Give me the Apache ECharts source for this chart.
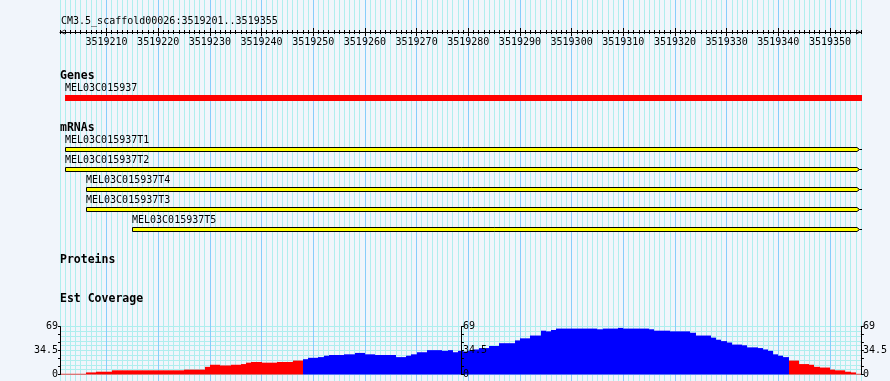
<!DOCTYPE html>
<html><head><meta charset="utf-8">
<script src="https://cdn.jsdelivr.net/npm/echarts@6/dist/echarts.min.js"></script>
<style>html,body{margin:0;padding:0;background:#f1f5fb}#c{width:890px;height:381px}</style>
</head><body><div id="c"></div>
<script>
// ---------- data ----------
const regionName = 'CM3.5_scaffold00026:3519201..3519355';
const viewStart = 3519201;
const viewEnd = 3519356;
const rulerLabels = [3519210, 3519220, 3519230, 3519240, 3519250, 3519260, 3519270, 3519280,
  3519290, 3519300, 3519310, 3519320, 3519330, 3519340, 3519350];
const trackNames = ['Genes', 'mRNAs', 'Proteins', 'Est Coverage'];
const geneNames = ['MEL03C015937'];
const geneStarts = [3519202];
const geneEnds = [3519356];
const mrnaNames = ['MEL03C015937T1', 'MEL03C015937T2', 'MEL03C015937T4', 'MEL03C015937T3', 'MEL03C015937T5'];
const mrnaStarts = [3519202, 3519202, 3519206, 3519206, 3519215];
const mrnaEnds = [3519356, 3519356, 3519356, 3519356, 3519356];
const coverageMax = 69;
const coverageAxisLabels = [0, 34.5, 69];
const coverageHighCut = 21;
// EST coverage, one value per base from viewStart
const coverage = [
  1,1,1,1,1,3,3,4,4,4,
  6,6,6,6,6,6,6,6,6,6,
  6,6,6,6,7,7,7,7,11,14,
  14,13,13,14,14,15,17,18,18,17,
  17,17,18,18,18,20,20,22,24,24,
  25,27,28,28,28,29,29,31,31,29,
  29,28,28,28,28,25,25,27,29,32,
  32,35,35,35,34,35,32,34,33,34,
  36,38,38,41,41,45,45,45,49,52,
  52,56,56,63,62,64,66,66,66,66,
  66,66,66,66,65,66,66,66,67,66,
  66,66,66,66,65,63,63,63,62,62,
  62,62,60,56,56,56,53,50,48,46,
  43,43,42,39,39,38,36,34,29,27,
  25,20,20,15,15,14,11,10,10,7,
  6,6,4,3,1
];

// ---------- layout ----------
const L = 60, W = 801;
const pxPerBp = W / (viewEnd - viewStart);
const majL = L + (rulerLabels[0] - viewStart) * pxPerBp;
const majW = (rulerLabels[rulerLabels.length - 1] - rulerLabels[0]) * pxPerBp;
const covTop = 326.5, covH = 48;
const SMALL = '10px "DejaVu Sans Mono"';
const BOLD = 'bold 11.5px "DejaVu Sans Mono"';
const MINOR = '#afeeee', MAJOR = '#87cefa';
const trackY = [76, 128, 260, 299];

const hidden = {show: false};
const noLine = {show: false, onZero: false};
function hx(grid, min, max, extra) {
  return Object.assign({type: 'value', gridIndex: grid, min: min, max: max,
    axisLine: noLine, axisTick: hidden, axisLabel: hidden, splitLine: hidden}, extra || {});
}
function hy(grid, extra) {
  return Object.assign({type: 'value', gridIndex: grid, min: 0, max: 1,
    axisLine: noLine, axisTick: hidden, axisLabel: hidden, splitLine: hidden}, extra || {});
}

const featureData = [];
geneNames.forEach((n, i) => featureData.push([geneStarts[i], geneEnds[i], 0, i]));
mrnaNames.forEach((n, i) => featureData.push([mrnaStarts[i], mrnaEnds[i], 1, i]));

const covData = coverage.map((v, i) => [viewStart + i, v]);

const chevron = 'path://M0,10 L5,0 L10,10 L8.6,10 L5,2.8 L1.4,10 Z';
const covLabel = {show: true, margin: 2, color: '#000', fontFamily: 'DejaVu Sans Mono', fontSize: 10,
  formatter: v => coverageAxisLabels.includes(v) ? String(v) : ''};

const option = {
  backgroundColor: '#f1f5fb',
  animation: false,
  grid: [
    {left: L, width: W, top: 0, height: 381},            // 0 minor grid + features
    {left: majL, width: majW, top: 0, height: 381},      // 1 major grid
    {left: L, width: W, top: 0, height: 32},             // 2 ruler minor down
    {left: L, width: W, top: 32, height: 10},            // 3 ruler minor up
    {left: majL, width: majW, top: 0, height: 32},       // 4 ruler major down + labels
    {left: majL, width: majW, top: 32, height: 10},      // 5 ruler major up
    {left: L, width: W, top: covTop, height: covH},      // 6 coverage
    {left: L, width: 401, top: covTop, height: covH}     // 7 middle coverage axis
  ],
  xAxis: [
    hx(0, viewStart, viewEnd, {interval: 1, splitLine: {show: true, lineStyle: {color: MINOR, width: 1}}}),
    hx(1, rulerLabels[0], rulerLabels[rulerLabels.length - 1], {interval: 10, splitLine: {show: true, lineStyle: {color: MAJOR, width: 1}}}),
    hx(2, viewStart, viewEnd, {interval: 1, position: 'bottom', z: 5,
      axisLine: {show: true, onZero: false, lineStyle: {color: '#000', width: 1}, symbol: [chevron, chevron], symbolSize: [7, 5], symbolOffset: [2.5, -2.5]},
      axisTick: {show: true, length: 2, lineStyle: {color: '#000'}}}),
    hx(3, viewStart, viewEnd, {interval: 1, position: 'top', z: 5,
      axisTick: {show: true, length: 2, lineStyle: {color: '#000'}}}),
    hx(4, rulerLabels[0], rulerLabels[rulerLabels.length - 1], {interval: 10, position: 'bottom', z: 5,
      axisTick: {show: true, length: 4, lineStyle: {color: '#000'}},
      axisLabel: {show: true, margin: 5, color: '#000', fontFamily: 'DejaVu Sans Mono', fontSize: 10,
        formatter: v => rulerLabels.includes(v) ? String(v) : ''}}),
    hx(5, rulerLabels[0], rulerLabels[rulerLabels.length - 1], {interval: 10, position: 'top', z: 5,
      axisTick: {show: true, length: 4, lineStyle: {color: '#000'}}}),
    hx(6, viewStart, viewEnd),
    hx(7, 0, 1)
  ],
  yAxis: [
    hy(0, {min: 0, max: 381, inverse: true}),
    hy(1), hy(2), hy(3), hy(4), hy(5),
    {type: 'value', gridIndex: 6, min: 0, max: coverageMax, interval: coverageMax / 6, position: 'left', z: 5,
      axisLine: {show: true, onZero: false, lineStyle: {color: '#000'}},
      axisTick: {show: true, length: 2, lineStyle: {color: '#000'}},
      axisLabel: covLabel, splitLine: hidden},
    {type: 'value', gridIndex: 6, min: 0, max: coverageMax, interval: coverageMax / 6, position: 'right', z: 5,
      axisLine: {show: true, onZero: false, lineStyle: {color: '#000'}},
      axisTick: {show: true, length: 3, lineStyle: {color: '#000'}},
      axisLabel: covLabel, splitLine: hidden},
    {type: 'value', gridIndex: 7, min: 0, max: coverageMax, interval: coverageMax / 6, position: 'right', z: 5,
      axisLine: {show: true, onZero: false, lineStyle: {color: '#000'}},
      axisTick: {show: true, length: 3, lineStyle: {color: '#000'}},
      axisLabel: covLabel, splitLine: hidden},
    {type: 'value', gridIndex: 6, min: 0, max: coverageMax, interval: coverageMax / 10, position: 'left',
      axisLine: noLine, axisTick: hidden, axisLabel: hidden,
      splitLine: {show: true, lineStyle: {color: MINOR, width: 1}}}
  ],
  graphic: [
    {type: 'text', x: 61, y: 21.5, z: 10, style: {text: regionName, font: SMALL, fill: '#000', textVerticalAlign: 'middle'}}
  ].concat(trackNames.map((t, i) => ({type: 'text', x: 60, y: trackY[i], z: 10,
    style: {text: t, font: BOLD, fill: '#000', textVerticalAlign: 'middle'}}))),
  series: [
    {
      type: 'custom', xAxisIndex: 0, yAxisIndex: 0, z: 3, clip: false,
      data: featureData,
      renderItem: function (params, api) {
        const s = api.value(0), e = api.value(1), kind = api.value(2), k = api.value(3);
        const xs = Math.round(api.coord([s, 0])[0]);
        const xe = Math.round(api.coord([e, 0])[0]);
        if (kind === 0) {
          const top = 95;
          return {type: 'group', children: [
            {type: 'rect', shape: {x: xs, y: top, width: xe + 1 - xs, height: 6}, style: {fill: '#ff0000'}},
            {type: 'text', style: {text: geneNames[k], x: xs, y: top - 6.5, font: SMALL, fill: '#000', textVerticalAlign: 'middle'}}
          ]};
        }
        const top = 147.5 + 20 * k, h = 4, mid = top + h / 2;
        return {type: 'group', children: [
          {type: 'polygon', shape: {points: [[xs + 0.5, top], [xe - 4, top], [xe - 1.5, mid], [xe - 4, top + h], [xs + 0.5, top + h]]},
            style: {fill: '#ffff00', stroke: '#000', lineWidth: 1}},
          {type: 'line', shape: {x1: xe - 1.5, y1: mid, x2: xe + 1, y2: mid}, style: {stroke: '#000', lineWidth: 1}},
          {type: 'text', style: {text: mrnaNames[k], x: xs, y: top - 7, font: SMALL, fill: '#000', textVerticalAlign: 'middle'}}
        ]};
      }
    },
    {
      type: 'custom', xAxisIndex: 6, yAxisIndex: 6, z: 3,
      data: covData,
      renderItem: function (params, api) {
        const pos = api.value(0), v = api.value(1);
        const p0 = api.coord([pos, v]);
        const p1 = api.coord([pos + 1, 0]);
        const x0 = Math.round(p0[0]), x1 = Math.round(p1[0]);
        return {type: 'rect', shape: {x: x0, y: p0[1], width: x1 - x0, height: p1[1] - p0[1]},
          style: {fill: v >= coverageHighCut ? '#0000ff' : '#ff0000'}};
      }
    }
  ]
};
const chart = echarts.init(document.getElementById('c'), null, {renderer: 'canvas'});
chart.setOption(option);
</script>
</body></html>
